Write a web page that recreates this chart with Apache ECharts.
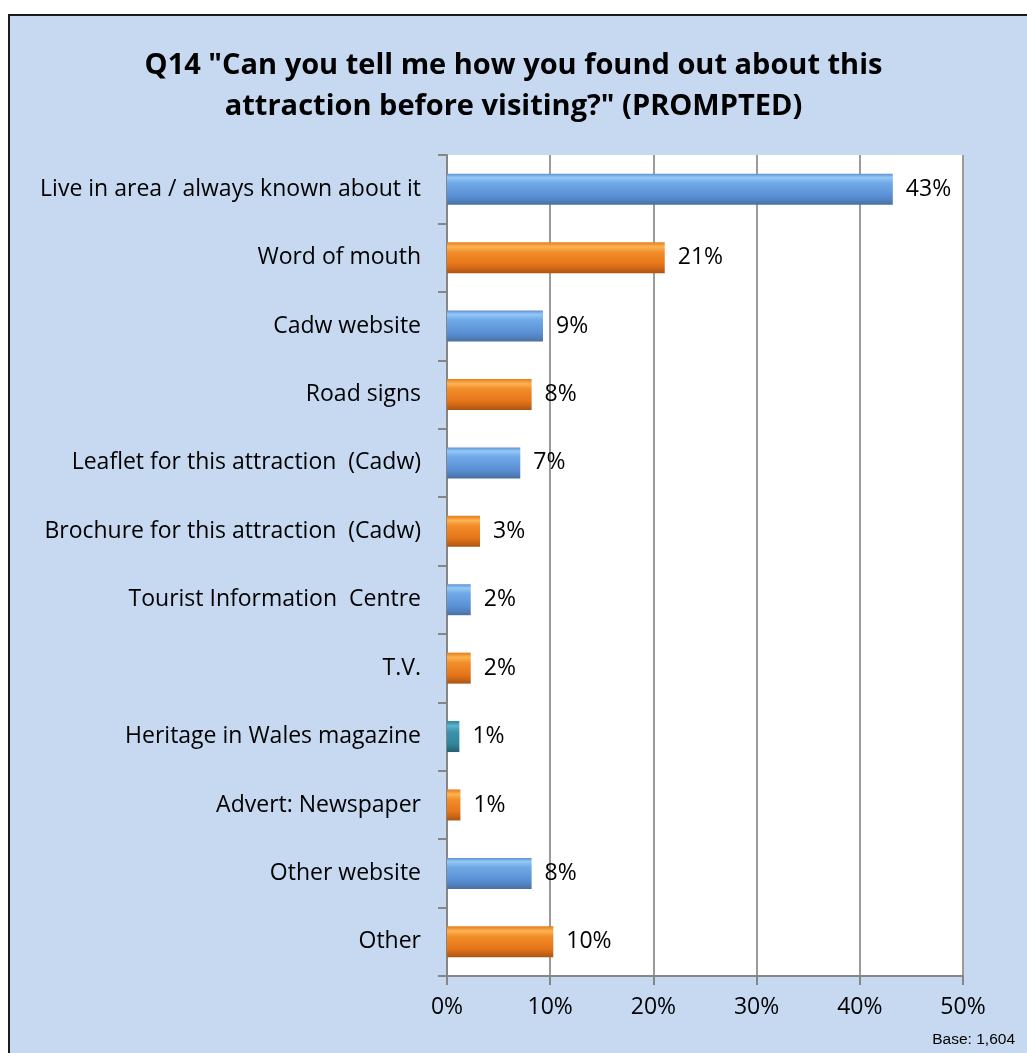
<!DOCTYPE html>
<html>
<head>
<meta charset="utf-8">
<script src="https://cdn.jsdelivr.net/npm/echarts@6/dist/echarts.min.js"></script>
<style>
  html, body { margin: 0; padding: 0; background: #ffffff; }
  #chart { width: 1027px; height: 1053px; }
</style>
</head>
<body>
<div id="chart"></div>
<script>
// Survey answers, top to bottom
const categories = [
  'Live in area / always known about it',
  'Word of mouth',
  'Cadw website',
  'Road signs',
  'Leaflet for this attraction  (Cadw)',
  'Brochure for this attraction  (Cadw)',
  'Tourist Information  Centre',
  'T.V.',
  'Heritage in Wales magazine',
  'Advert: Newspaper',
  'Other website',
  'Other'
];
// Share of respondents (%)
const shares = [43.2, 21.1, 9.3, 8.2, 7.1, 3.2, 2.3, 2.3, 1.2, 1.3, 8.2, 10.3];
// Colour family for each bar
const barTones = ['blue', 'orange', 'blue', 'orange', 'blue', 'orange', 'blue', 'orange', 'teal', 'orange', 'blue', 'orange'];
const axisTicks = [0, 10, 20, 30, 40, 50];

const FONT = '"Open Sans", "Noto Sans", sans-serif';

function tubeGradient(stops) {
  return new echarts.graphic.LinearGradient(0, 0, 0, 1,
    stops.map(s => ({ offset: s[0], color: s[1] })));
}
const palettes = {
  blue: tubeGradient([[0, '#5F90D0'], [0.12, '#94C8F6'], [0.3, '#70A9E7'], [0.7, '#5A91D6'], [0.85, '#5283C2'], [1, '#4A6F9E']]),
  orange: tubeGradient([[0, '#E47C1C'], [0.15, '#FDB352'], [0.32, '#F28E2A'], [0.7, '#E6761A'], [0.85, '#CD6716'], [1, '#A85515']]),
  teal: tubeGradient([[0, '#2F7F96'], [0.15, '#5BB5CC'], [0.35, '#3A93AB'], [0.75, '#31849B'], [1, '#245F70']])
};

const chart = echarts.init(document.getElementById('chart'), null, { renderer: 'canvas' });

chart.setOption({
  backgroundColor: '#ffffff',
  animation: false,
  graphic: [
    {
      type: 'rect',
      z: -10,
      shape: { x: 9, y: 15, width: 1040, height: 1060 },
      style: { fill: '#C6D9F1', stroke: '#1a1a1a', lineWidth: 2 }
    },
    {
      type: 'text',
      right: 12,
      top: 1032,
      style: { text: 'Base: 1,604', font: '15.5px "Liberation Sans", Arial, sans-serif', fill: '#000' }
    }
  ],
  title: {
    text: 'Q14 "Can you tell me how you found out about this\nattraction before visiting?" (PROMPTED)',
    left: 'center',
    top: 40,
    textStyle: {
      fontFamily: FONT,
      fontWeight: 'bold',
      fontSize: 29,
      lineHeight: 41,
      color: '#000'
    }
  },
  grid: { left: 447, right: 64, top: 155, bottom: 77, containLabel: false, show: true, backgroundColor: '#ffffff', borderWidth: 0 },
  xAxis: {
    type: 'value',
    min: axisTicks[0],
    max: axisTicks[axisTicks.length - 1],
    interval: 10,
    axisLine: { show: true, lineStyle: { color: '#868686', width: 2 } },
    axisTick: { show: true, length: 9, lineStyle: { color: '#868686', width: 2 } },
    axisLabel: { formatter: '{value}%', fontFamily: FONT, fontSize: 23, color: '#000', margin: 20 },
    splitLine: { show: true, lineStyle: { color: '#9a9a9a', width: 2 } }
  },
  yAxis: {
    type: 'category',
    inverse: true,
    data: categories,
    axisLine: { show: true, lineStyle: { color: '#868686', width: 2 } },
    axisTick: { show: true, length: 9, lineStyle: { color: '#868686', width: 2 } },
    axisLabel: { fontFamily: FONT, fontSize: 23, color: '#000', margin: 26 },
    splitLine: { show: false }
  },
  series: [{
    type: 'bar',
    barWidth: 31,
    data: shares.map((v, i) => ({
      value: v,
      itemStyle: { color: palettes[barTones[i]] }
    })),
    label: {
      show: true,
      position: 'right',
      distance: 13,
      fontFamily: FONT,
      fontSize: 23,
      color: '#000',
      formatter: p => Math.round(p.value) + '%'
    }
  }]
});
</script>
</body>
</html>
